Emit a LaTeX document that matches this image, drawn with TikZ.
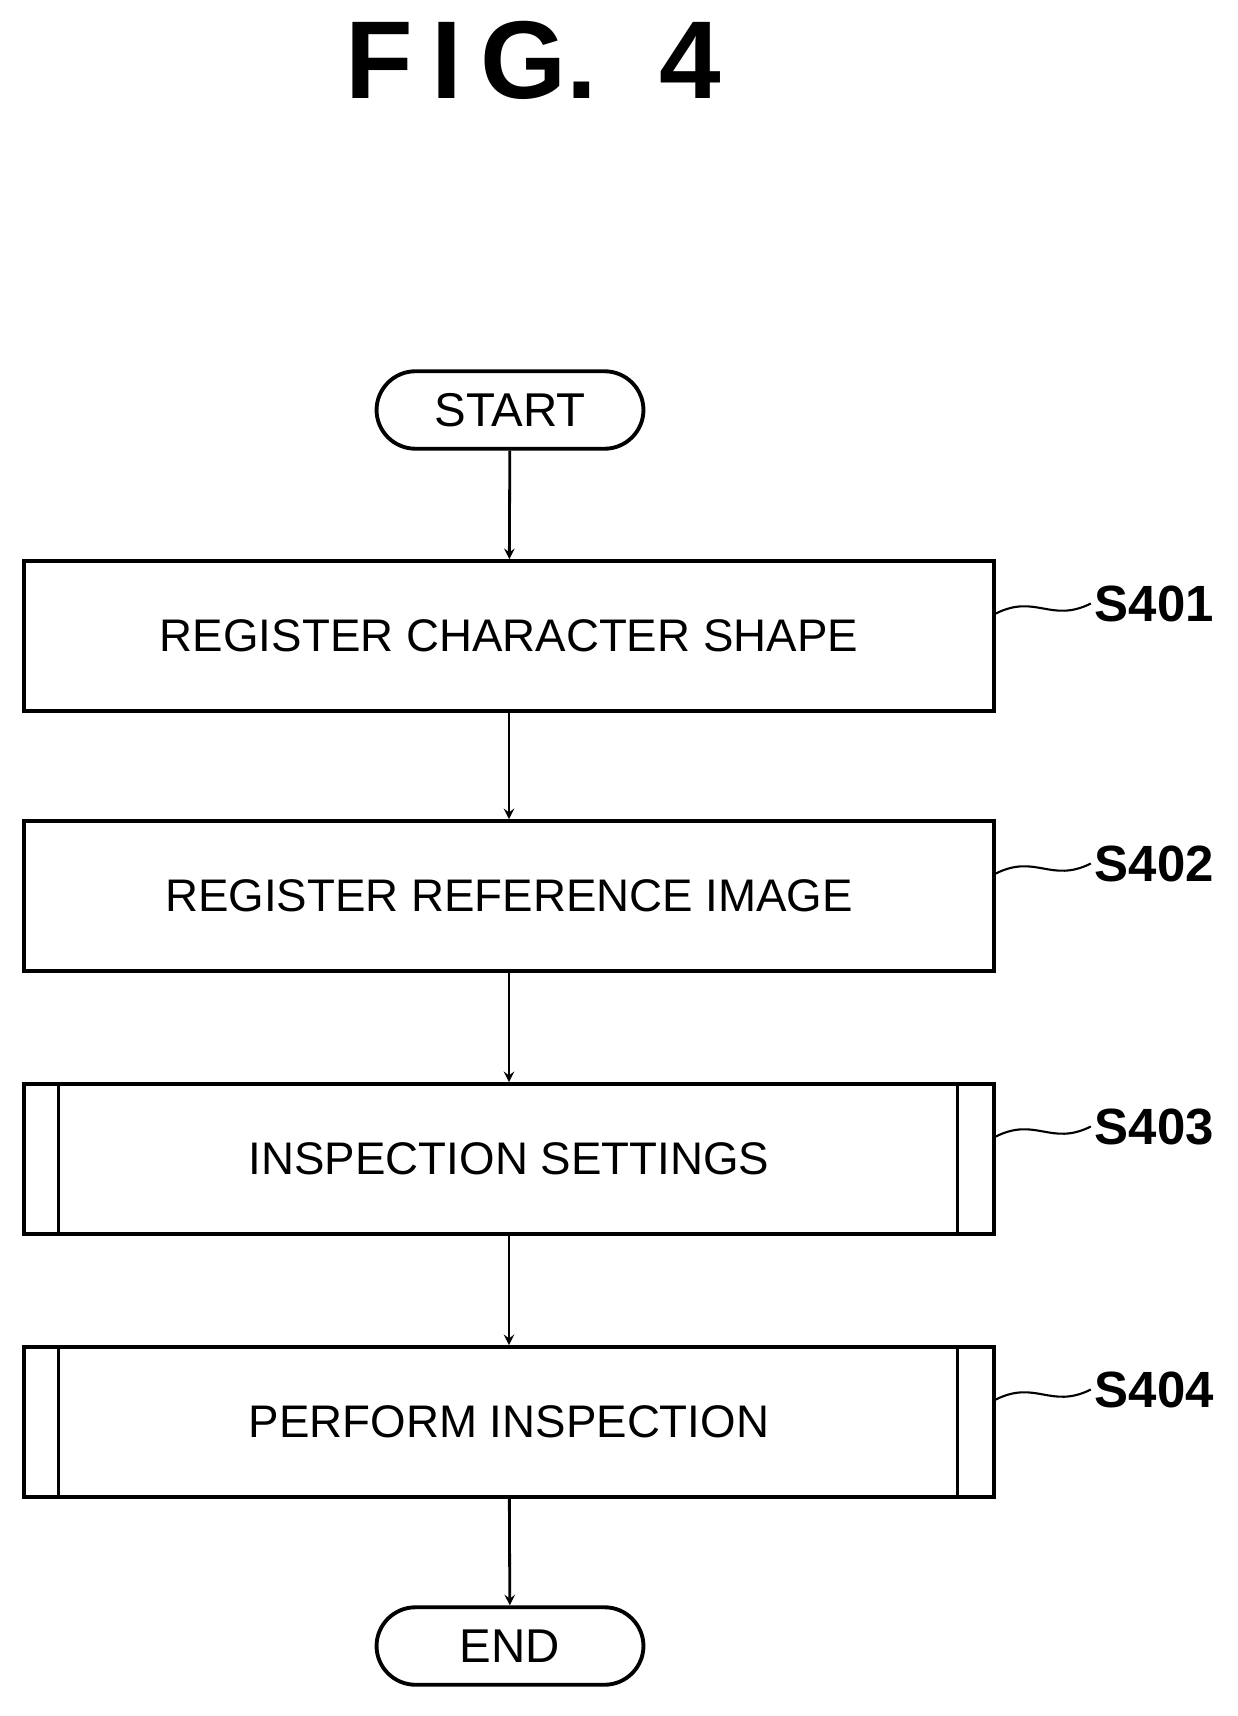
\documentclass[tikz,border=0pt]{standalone}
\usepackage{fontspec}
\setmainfont{Liberation Sans}
\usetikzlibrary{positioning}
\begin{document}
\begin{tikzpicture}[x=0.02cm,y=-0.02cm,
    proc/.style={draw,line width=2.2pt,minimum width=19.4cm,minimum height=3.0cm,font=\fontsize{26}{32}\selectfont},
    term/.style={draw,line width=2.2pt,rounded corners=0.78cm,minimum width=5.34cm,minimum height=1.55cm,font=\fontsize{27}{32}\selectfont},
    lbl/.style={font=\fontsize{29}{34}\selectfont\bfseries,anchor=west,inner sep=2pt},
    flow/.style={->,line width=1.6pt,>=stealth}]
    \useasboundingbox (0,0) rectangle (1237,1716);
    % Title
    \node[font=\fontsize{63}{70}\selectfont\bfseries] (title) at (533,60) {F\,I\,G.\ \ 4};
    % Flow
    \node[term] (start) at (510,410) {START};
    \node[proc] (s1) at (509,636) {REGISTER CHARACTER SHAPE};
    \node[proc] (s2) at (509,896) {REGISTER REFERENCE IMAGE};
    \node[proc] (s3) at (509,1159) {INSPECTION SETTINGS};
    \node[proc] (s4) at (509,1422) {PERFORM INSPECTION};
    \node[term] (end) at (510,1646) {END};
    % Subroutine bars
    \foreach \n in {s3,s4} {
      \draw[line width=1.6pt] ([xshift=0.72cm]\n.north west) -- ([xshift=0.72cm]\n.south west);
      \draw[line width=1.6pt] ([xshift=-0.76cm]\n.north east) -- ([xshift=-0.76cm]\n.south east);
    }
    % Arrows
    \draw[flow] (start) -- (s1);
    \draw[flow] (s1) -- (s2);
    \draw[flow] (s2) -- (s3);
    \draw[flow] (s3) -- (s4);
    \draw[flow] (s4) -- (end);
    % Step labels
    \foreach \n/\t in {s1/S401,s2/S402,s3/S403,s4/S404} {
      \node[lbl] (\n lbl) at ([xshift=1.9cm,yshift=0.65cm]\n.east) {\t};
      \draw[line width=1.2pt] ([yshift=0.45cm]\n.east) .. controls +(0.8cm,0.4cm) and +(-0.8cm,-0.4cm) .. (\n lbl.west);
    }
\end{tikzpicture}
\end{document}
